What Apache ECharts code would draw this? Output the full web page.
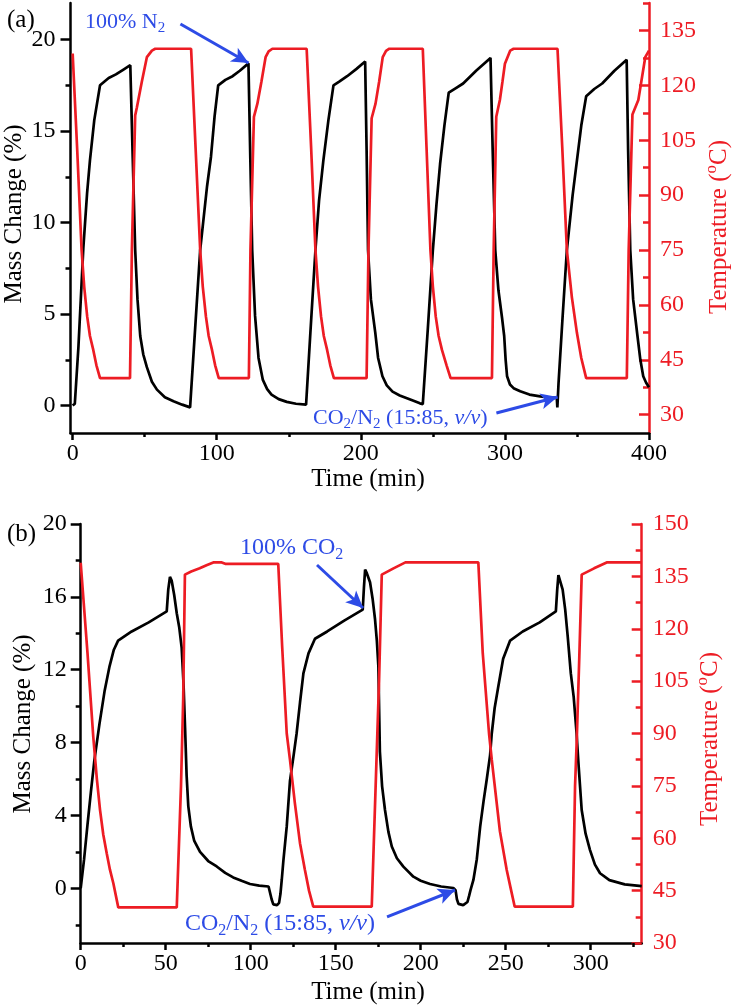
<!DOCTYPE html>
<html><head><meta charset="utf-8">
<script src="https://cdn.jsdelivr.net/npm/echarts@6/dist/echarts.min.js"></script>
<style>html,body{margin:0;padding:0;background:#fff}#c{width:736px;height:1008px}</style>
</head><body><div id="c"></div>
<script>
// ---------- DATA ----------
const massA = [[0,0],[1.5,0.1],[4,3.2],[7.4,8.6],[10,11.6],[12,13.4],[15,15.6],[19,17.5],[25,17.9],[30,18.1],[35,18.35],[40,18.6],
[41.7,13.5],[43.4,8.5],[45,5.8],[46.9,3.8],[49,2.8],[51.5,2.1],[55,1.3],[58.5,0.87],[64,0.45],[70,0.23],[76,0.05],[81.5,-0.1],
[85,4.2],[88.5,8.5],[93.3,12],[96,13.6],[98.5,15.8],[101,17.5],[106,17.8],[111,18.0],[116,18.3],[122,18.7],
[123.3,13.5],[124.6,8.5],[126.6,4.9],[129,2.6],[132,1.4],[135,0.9],[138,0.6],[143,0.35],[148.6,0.2],[155,0.1],[162,0.05],
[165,4.0],[168.5,8.5],[171,11.2],[174,13.4],[177.5,15.6],[181,17.5],[185,17.7],[190.5,18.0],[197,18.4],[203,18.8],
[204,14],[205,8.5],[207,5.8],[210,4.0],[212,2.6],[215,1.6],[218,1.1],[222,0.76],[227,0.55],[232,0.4],[237,0.25],[241,0.12],[243,0.08],
[246.5,4.2],[250,8.5],[252.5,11.0],[255,13.2],[258,15.3],[261,17.1],[266,17.35],[271,17.6],[280,18.3],[290,19.0],
[291.5,14],[293.3,8.5],[295.5,6.3],[298,4.8],[299.5,3.8],[300.5,2.5],[301.5,1.6],[303.5,1.15],[306,0.95],[310.6,0.78],[317,0.6],[324.5,0.5],[330,0.45],[336,0.42],[336.4,-0.1],
[337.2,1.2],[340,4.8],[343,8.5],[347,11.5],[350,13.4],[353,15.3],[356.4,16.9],[362,17.3],[367.5,17.6],[376,18.3],[384.5,18.9],
[385.5,14],[387,8.5],[389,5.8],[392,3.8],[394,2.5],[396,1.6],[398,1.25],[400,1.0]];

const tempA = [[0,128.7],[3.2,102],[6.2,75],[8,65],[10.1,56.8],[12,51.5],[14.3,47.7],[16.5,43.5],[19,40],[39.8,40],
[41.1,75],[43.4,111.8],[44.6,114],[48,121],[51.5,127.7],[55,129.5],[57.3,130],[82.2,130],
[85.3,103],[88.5,75],[90.3,65],[92.5,56.8],[94.4,51.5],[96.7,47.7],[98.9,43.5],[101.4,40],[122.3,40],
[123.4,75],[125.8,111.4],[128.2,115],[131,121],[133.9,127.7],[136,129.3],[138.6,130],[162.4,130],
[165.5,103],[168.5,75],[170.3,65],[172.4,56.8],[174.3,51.5],[176.6,47.7],[178.8,43.5],[181.3,40],[204,40],
[205.3,75],[207.5,111],[210.2,115],[212.7,121],[215.2,127.7],[217.5,129.4],[219.8,130],[243,130],
[245.6,103],[248.3,75],[250,65],[252,56.8],[254,51.5],[256.3,47.7],[259.5,43.5],[262.3,40],[291,40],
[292.2,75],[294,111.4],[296.5,116],[298.3,121],[300,125.9],[303.7,129.5],[306,130],[336.5,130],
[339.8,103],[343,75],[346.5,62],[350,52.3],[353,45.5],[356.4,40],[384.6,40],
[385.9,75],[388.5,112],[392.6,116],[397.4,127.7],[400,129.5]];

const massB = [[0,0],[2,1.6],[4,3.5],[6,5.3],[8,7.0],[11,9.0],[14,10.8],[17,12.2],[19.5,13.1],[22,13.6],[30,14.1],[40,14.6],[50.6,15.2],[51.5,16.4],[52.5,17.1],[53.5,16.9],[55,16.1],[56.5,15.1],[58,14.3],[59.4,13.2],[60.5,11.2],[61.4,8.8],[62.3,6.2],[63.3,4.5],[64.8,3.4],[66.8,2.6],[70.2,2.0],[75,1.5],[80,1.2],[85,0.85],[89.7,0.6],[95,0.4],[99.6,0.24],[105,0.15],[110.5,0.1],[111.5,0.0],[112.3,-0.6],[113.3,-0.88],[115.5,-0.92],[116.7,-0.8],[117.5,-0.3],[118.3,0.5],[119.2,1.5],[121.2,3.4],[123.1,5.9],[125.1,7.2],[127,8.5],[129,10.2],[131,11.8],[134,12.9],[137.8,13.7],[145,14.1],[155,14.7],[165.9,15.3],[166.6,16.5],[167.3,17.5],[168.3,17.3],[170.2,16.8],[171.7,15.9],[173.1,14.8],[174.2,13.6],[175.1,12.2],[176,7.5],[177.3,5.6],[179,4.3],[181,3.1],[183,2.3],[186,1.65],[189.8,1.19],[195.7,0.64],[200,0.42],[205.5,0.24],[212,0.1],[219.2,0.02],[220.5,-0.1],[221.3,-0.6],[222.2,-0.85],[225,-0.92],[227.5,-0.75],[228.5,-0.4],[229.3,-0.1],[231,0.46],[233,1.6],[235,3.4],[237,4.8],[238.8,5.95],[240.8,7.3],[241.8,8.5],[243.5,9.9],[245.5,11.0],[248.5,12.6],[252.6,13.6],[260,14.1],[270,14.6],[279.5,15.2],[280.3,16.4],[281,17.2],[282,17.1],[283.5,16.4],[285,15.3],[286.5,13.8],[288.3,11.8],[290,10.5],[291.7,8.5],[292.7,7.0],[294.7,4.3],[297,3.0],[299.6,2.1],[302.5,1.3],[305.5,0.83],[311,0.45],[320,0.22],[330,0.12]];

const tempB = [[0,138.9],[1,138.6],[4,113],[7.4,89],[9.5,77],[11.4,68],[13.3,61],[15.3,55.7],[17.2,51],[19.2,47.1],[22.1,40.2],[56.5,40.2],
[59,75],[60.3,100],[61.3,135.5],[65,136.4],[70,137.3],[74,138.2],[78,139],[83,139],[85,138.6],[116.2,138.6],
[118.5,115],[121.2,90],[123.1,82.5],[126,70],[129,58.6],[131.9,50.9],[134.3,45],[136.8,40.4],[171.2,40.4],
[173.5,75],[175.5,105],[177.1,135.5],[184,137.3],[191,139],[233.9,139],
[236.5,113],[240.2,90],[241.8,82.5],[246.6,62],[250.6,50.9],[253,45.5],[255.3,40.4],[289.5,40.4],
[290.8,75],[291.8,88.2],[293.3,112],[294.7,135.5],[302,137.3],[309.4,139],[330,139]];

const xTicksA = [0,100,200,300,400];
const xMinorA = [50,150,250,350];
const yTicksAL = [0,5,10,15,20];
const yMinorAL = [2.5,7.5,12.5,17.5];
const yTicksAR = [30,45,60,75,90,105,120,135];
const yMinorAR = [37.5,52.5,67.5,82.5,97.5,112.5,127.5,142.5];
const xTicksB = [0,50,100,150,200,250,300];
const xMinorB = [25,75,125,175,225,275,325];
const yTicksBL = [0,4,8,12,16,20];
const yMinorBL = [-2,2,6,10,14,18];
const yTicksBR = [30,45,60,75,90,105,120,135,150];
const yMinorBR = [37.5,52.5,67.5,82.5,97.5,112.5,127.5,142.5];

// annotation arrows [from, to] in data coordinates
const arrowsA = [[[74.8,20.85],[122.1,18.72]],[[294.1,-0.41],[336.6,0.47]]];
const arrowsB = [[[139,17.75],[166.1,15.39]],[[180.2,-1.57],[220.2,-0.09]]];

// ---------- STYLE ----------
const FF = 'Liberation Serif';
const RED = '#ED1C24';
const BLUE = '#2D4BE6';
const AXW = 2.5;

function axis(kind, o) {
  const a = {
    type: 'value', gridIndex: o.grid, min: o.min, max: o.max, position: o.pos,
    splitLine: {show: false}, minorTick: {show: false}, minorSplitLine: {show: false},
    axisLine: {show: !!o.line, onZero: false, lineStyle: {color: o.color, width: AXW}},
    axisTick: {show: true, inside: !!o.inside, length: o.len, customValues: o.ticks,
               lineStyle: {color: o.color, width: AXW}},
    axisLabel: o.labels ? {show: true, customValues: o.ticks, margin: o.margin, color: o.color,
               fontFamily: FF, fontSize: 24} : {show: false},
    axisPointer: {show: false}
  };
  if (kind === 'y') a.alignTicks = false;
  return a;
}

const gA = {left: 70.5, top: 3, width: 578.5, height: 430, outerBoundsMode: 'none', containLabel: false};
const gB = {left: 80.7, top: 524, width: 561, height: 419, outerBoundsMode: 'none', containLabel: false};

const xAxis = [
  axis('x', {grid: 0, min: -1.5, max: 400, pos: 'bottom', line: true, color: '#000', len: 7, ticks: xTicksA, labels: true, margin: 9}),
  axis('x', {grid: 1, min: 0, max: 330, pos: 'bottom', line: true, color: '#000', len: 7, ticks: xTicksB, labels: true, margin: 9}),
  axis('x', {grid: 2, min: -1.5, max: 400, pos: 'bottom', line: false, color: '#000', len: 4, ticks: xMinorA}),
  axis('x', {grid: 3, min: 0, max: 330, pos: 'bottom', line: false, color: '#000', len: 4, ticks: xMinorB})
];
const yAxis = [
  axis('y', {grid: 0, min: -1.5, max: 22, pos: 'left', line: true, color: '#000', len: 10, ticks: yTicksAL, labels: true, margin: 15}),
  axis('y', {grid: 0, min: 25, max: 142.5, pos: 'right', line: true, color: RED, len: 10, inside: true, ticks: yTicksAR, labels: true, margin: 11}),
  axis('y', {grid: 1, min: -3, max: 20, pos: 'left', line: true, color: '#000', len: 10, ticks: yTicksBL, labels: true, margin: 14}),
  axis('y', {grid: 1, min: 30, max: 150, pos: 'right', line: true, color: RED, len: 10, inside: true, ticks: yTicksBR, labels: true, margin: 11}),
  axis('y', {grid: 2, min: -1.5, max: 22, pos: 'left', line: false, color: '#000', len: 5, ticks: yMinorAL}),
  axis('y', {grid: 2, min: 25, max: 142.5, pos: 'right', line: false, color: RED, len: 6, inside: true, ticks: yMinorAR}),
  axis('y', {grid: 3, min: -3, max: 20, pos: 'left', line: false, color: '#000', len: 5, ticks: yMinorBL}),
  axis('y', {grid: 3, min: 30, max: 150, pos: 'right', line: false, color: RED, len: 6, inside: true, ticks: yMinorBR})
];

function arrowLine(list) {
  return {
    silent: true, animation: false, symbol: ['none', 'arrow'], symbolSize: [12, 17],
    lineStyle: {color: BLUE, width: 3, type: 'solid', opacity: 1},
    itemStyle: {color: BLUE},
    label: {show: false}, emphasis: {disabled: true},
    data: list.map(a => [{coord: a[0]}, {coord: a[1]}])
  };
}

function lineSeries(data, xi, yi, color, z, ml) {
  const s = {type: 'line', data: data, xAxisIndex: xi, yAxisIndex: yi, showSymbol: false, symbol: 'none',
    smooth: false, animation: false, silent: true, z: z,
    lineStyle: {color: color, width: 2.7}, itemStyle: {color: color}, emphasis: {disabled: true}};
  if (ml) s.markLine = ml;
  return s;
}

function rich(size, color) {
  return {
    a: {fontSize: size, fontFamily: FF, fill: color, color: color, lineHeight: size + 6, verticalAlign: 'middle'},
    s: {fontSize: Math.round(size * 0.68), fontFamily: FF, fill: color, color: color, lineHeight: size + 6, verticalAlign: 'bottom'},
    i: {fontSize: size, fontFamily: FF, fontStyle: 'italic', fill: color, color: color, lineHeight: size + 6, verticalAlign: 'middle'},
    p: {fontSize: Math.round(size * 0.68), fontFamily: FF, fill: color, color: color, lineHeight: size + 6, verticalAlign: 'top'}
  };
}

function txt(x, y, text, size, color, rot, align) {
  return {type: 'text', x: x, y: y, rotation: rot || 0, z: 100, silent: true,
    style: {text: text, rich: rich(size, color), fill: color, fontSize: size, fontFamily: FF,
      align: align || 'left', textAlign: align || 'left', verticalAlign: 'middle', textVerticalAlign: 'middle'}};
}

const graphic = [
  txt(7, 20, '{a|(a)}', 25, '#000'),
  txt(7, 534, '{a|(b)}', 25, '#000'),
  txt(14, 214, '{a|Mass Change (%)}', 25, '#000', Math.PI / 2, 'center'),
  txt(23, 724, '{a|Mass Change (%)}', 25, '#000', Math.PI / 2, 'center'),
  txt(719, 227, '{a|Temperature (}{p|o}{a|C)}', 25, RED, Math.PI / 2, 'center'),
  txt(710, 739, '{a|Temperature (}{p|o}{a|C)}', 25, RED, Math.PI / 2, 'center'),
  txt(368, 479, '{a|Time (min)}', 25, '#000', 0, 'center'),
  txt(368, 992, '{a|Time (min)}', 25, '#000', 0, 'center'),
  txt(85, 22, '{a|100% N}{s|2}', 22, BLUE),
  txt(313, 418, '{a|CO}{s|2}{a|/N}{s|2}{a| (15:85, }{i|v/v}{a|)}', 22, BLUE),
  txt(240, 548, '{a|100% CO}{s|2}', 24, BLUE),
  txt(185, 924, '{a|CO}{s|2}{a|/N}{s|2}{a| (15:85, }{i|v/v}{a|)}', 24, BLUE)
];

const chart = echarts.init(document.getElementById('c'), null, {renderer: 'canvas'});
chart.setOption({
  backgroundColor: '#fff',
  animation: false,
  textStyle: {fontFamily: FF},
  grid: [gA, gB, Object.assign({}, gA), Object.assign({}, gB)],
  xAxis: xAxis,
  yAxis: yAxis,
  tooltip: {show: false},
  series: [
    lineSeries(massA, 0, 0, '#000', 2, arrowLine(arrowsA)),
    lineSeries(tempA, 0, 1, RED, 3),
    lineSeries(massB, 1, 2, '#000', 2, arrowLine(arrowsB)),
    lineSeries(tempB, 1, 3, RED, 3)
  ],
  graphic: graphic
});
</script></body></html>
